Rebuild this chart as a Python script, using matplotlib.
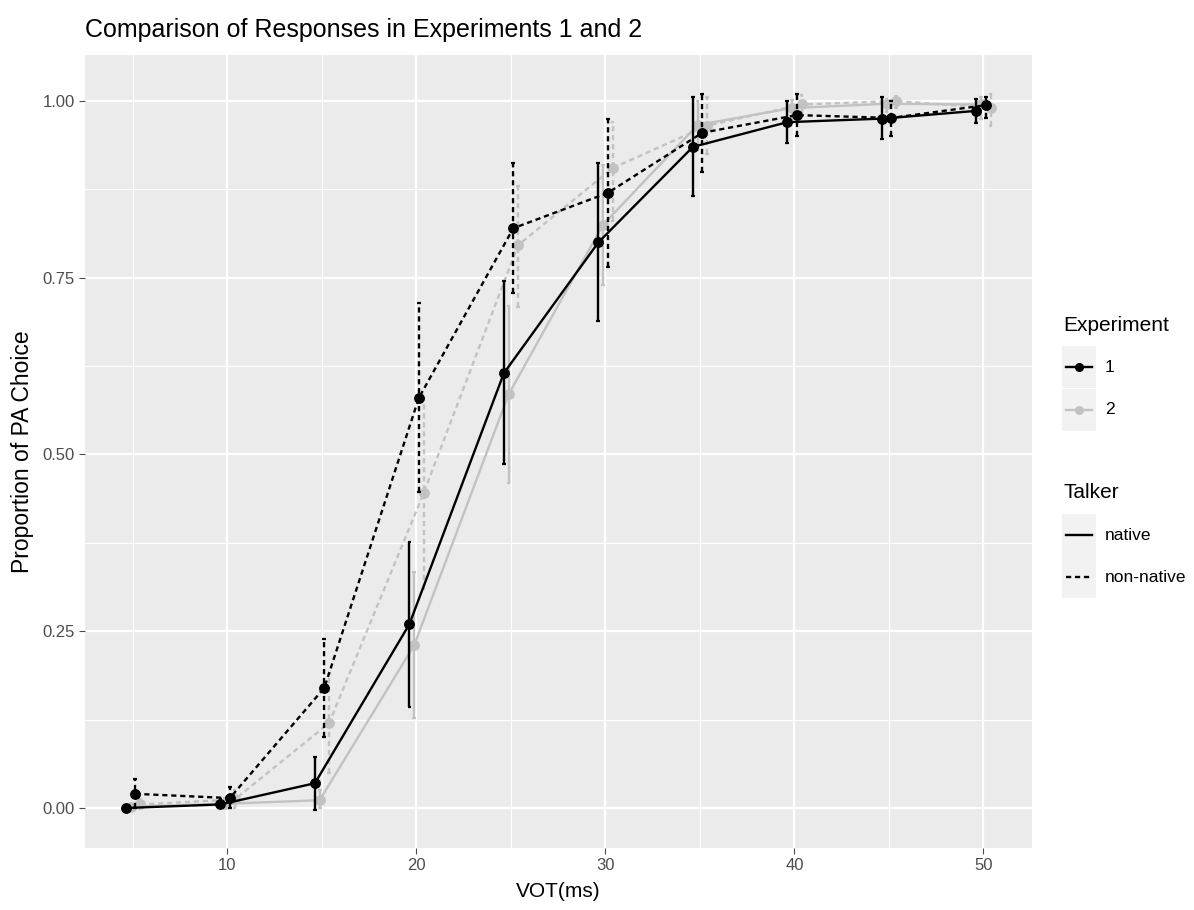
import numpy as np
import matplotlib
matplotlib.use("Agg")
import matplotlib.pyplot as plt
from matplotlib.lines import Line2D
from matplotlib.patches import Rectangle

plt.rcParams['font.family'] = ['Liberation Sans', 'DejaVu Sans']

vot = [5, 10, 15, 20, 25, 30, 35, 40, 45, 50]

# experiment 1, native talker
e1_nat = [0.000, 0.005, 0.035, 0.260, 0.615, 0.800, 0.935, 0.970, 0.975, 0.986]
e1_nat_lo = [0.000, 0.000, -0.003, 0.143, 0.487, 0.689, 0.866, 0.940, 0.946, 0.969]
e1_nat_hi = [0.003, 0.012, 0.072, 0.376, 0.745, 0.912, 1.006, 1.000, 1.005, 1.003]

# experiment 2, native talker
e2_nat = [0.002, 0.006, 0.011, 0.230, 0.585, 0.825, 0.966, 0.990, 0.996, 0.995]
e2_nat_lo = [0.000, 0.000, 0.000, 0.127, 0.460, 0.740, 0.930, 0.975, 0.985, 0.975]
e2_nat_hi = [0.006, 0.014, 0.025, 0.334, 0.710, 0.910, 1.000, 1.002, 1.003, 1.005]

# experiment 1, non-native talker
e1_non = [0.020, 0.014, 0.170, 0.580, 0.820, 0.870, 0.955, 0.980, 0.976, 0.994]
e1_non_lo = [0.000, 0.000, 0.100, 0.447, 0.728, 0.765, 0.900, 0.950, 0.950, 0.976]
e1_non_hi = [0.041, 0.030, 0.239, 0.714, 0.912, 0.975, 1.010, 1.010, 1.000, 1.005]

# experiment 2, non-native talker
e2_non = [0.005, 0.012, 0.120, 0.445, 0.796, 0.905, 0.965, 0.995, 1.000, 0.990]
e2_non_lo = [0.000, 0.000, 0.050, 0.310, 0.709, 0.830, 0.925, 0.980, 0.990, 0.965]
e2_non_hi = [0.012, 0.025, 0.190, 0.580, 0.880, 0.970, 1.005, 1.008, 1.007, 1.010]

exp_colors = {'1': 'black', '2': '#c2c2c2'}
talker_dash = {'native': '-', 'non-native': (0, (2.2, 1.6))}

series = [
    ('1', 'native', e1_nat, e1_nat_lo, e1_nat_hi),
    ('2', 'native', e2_nat, e2_nat_lo, e2_nat_hi),
    ('1', 'non-native', e1_non, e1_non_lo, e1_non_hi),
    ('2', 'non-native', e2_non, e2_non_lo, e2_non_hi),
]
dodge = [-0.375, -0.125, 0.125, 0.375]

fig = plt.figure(figsize=(11.94, 9.10), dpi=100)
ax = fig.add_axes([85 / 1194, 1 - 848 / 910, (1032 - 85) / 1194, (848 - 55) / 910])
ax.set_facecolor('#ebebeb')
for s in ax.spines.values():
    s.set_visible(False)

ax.set_xlim(2.46, 52.57)
ax.set_ylim(-0.0566, 1.065)
ax.set_xticks([10, 20, 30, 40, 50])
ax.set_yticks([0, 0.25, 0.5, 0.75, 1.0])
ax.set_yticklabels(['0.00', '0.25', '0.50', '0.75', '1.00'])
ax.set_xticks([5, 15, 25, 35, 45], minor=True)
ax.set_yticks([0.125, 0.375, 0.625, 0.875], minor=True)
ax.grid(which='major', color='white', linewidth=1.6)
ax.grid(which='minor', color='white', linewidth=0.8)
ax.set_axisbelow(True)
ax.tick_params(which='major', length=4, width=0.8, color='#4d4d4d', labelcolor='#4d4d4d', labelsize=12)
ax.tick_params(which='minor', length=0)

# grey series first so black sits on top
order = [1, 3, 0, 2]
for i in order:
    exp, talker, y, lo, hi = series[i]
    x = np.array(vot) + dodge[i]
    y = np.array(y)
    col = exp_colors[exp]
    ls = talker_dash[talker]
    z = 3 if exp == '1' else 2
    ax.plot(x, y, color=col, linestyle=ls, linewidth=1.7, zorder=z)
    ax.vlines(x, lo, hi, color=col, linestyle=ls, linewidth=1.7, zorder=z)
    ax.hlines(lo, x - 0.1, x + 0.1, color=col, linewidth=1.6, zorder=z)
    ax.hlines(hi, x - 0.1, x + 0.1, color=col, linewidth=1.6, zorder=z)
    ax.plot(x, y, 'o', color=col, markersize=6.8, zorder=z + 0.5)

ax.set_xlabel('VOT(ms)', fontsize=15, labelpad=6)
ax.set_ylabel('Proportion of PA Choice', fontsize=16.5, labelpad=6)
fig.text(85 / 1194, 1 - 30 / 910, 'Comparison of Responses in Experiments 1 and 2',
         fontsize=18, ha='left', va='center')


def px(xp, yp):
    return xp / 1194, 1 - yp / 910


def legend_key(yc, color, ls, marker):
    x0, y0 = px(1062, yc + 21)
    fig.add_artist(Rectangle((x0, y0), 34 / 1194, 42 / 910, transform=fig.transFigure,
                             facecolor='#f2f2f2', edgecolor='none'))
    xa, ya = px(1066, yc)
    xb, _ = px(1092, yc)
    fig.add_artist(Line2D([xa, xb], [ya, ya], transform=fig.transFigure, color=color,
                          linestyle=ls, linewidth=1.7))
    if marker:
        xm, _ = px(1079, yc)
        fig.add_artist(Line2D([xm], [ya], transform=fig.transFigure, color=color,
                              marker='o', markersize=5.5))


fig.text(*px(1063, 325), 'Experiment', fontsize=15, va='center')
for yc, lab in [(367, '1'), (410, '2')]:
    legend_key(yc, exp_colors[lab], '-', True)
    fig.text(*px(1105, yc), lab, fontsize=12.5, va='center')

fig.text(*px(1063, 493), 'Talker', fontsize=15, va='center')
for yc, lab in [(535, 'native'), (577, 'non-native')]:
    legend_key(yc, 'black', talker_dash[lab], False)
    fig.text(*px(1105, yc), lab, fontsize=12.5, va='center')

fig.savefig('out.png', dpi=100)
